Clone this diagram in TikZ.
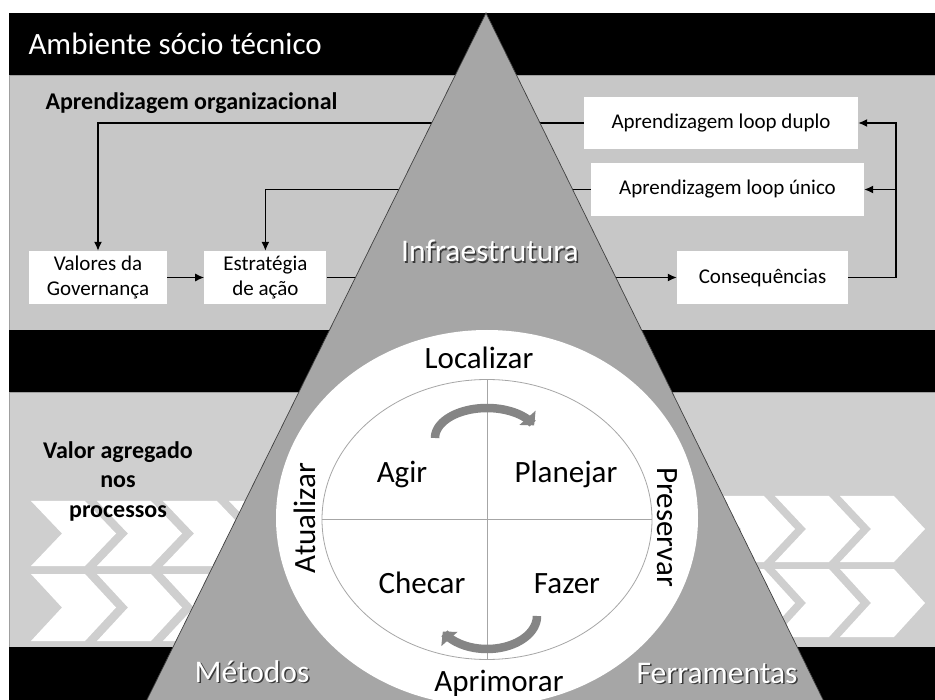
\documentclass[tikz,border=0pt]{standalone}
\usepackage{fontspec}
\setmainfont{Carlito}
\usetikzlibrary{arrows.meta}
\usetikzlibrary{positioning}
\usetikzlibrary{shapes.geometric}
\definecolor{bandgray}{gray}{0.78}
\definecolor{bandgraylow}{gray}{0.81}
\definecolor{trigray}{gray}{0.65}
\definecolor{arcgray}{gray}{0.52}
\tikzset{box/.style = {fill=white, inner sep=0, align=center,
                       font=\fontsize{21}{25}\selectfont}}
\tikzset{flow/.style = {line width=1.4pt, -{Latex[length=9pt, width=8pt]}}}
\tikzset{cyclearrow/.style = {draw=arcgray, line width=8.5pt,
                              -{Triangle[length=10pt, width=21pt]}}}
\tikzset{cycleword/.style = {anchor=base, font=\fontsize{31}{37}\selectfont}}
\tikzset{shade text/.style = {anchor=base, font=\fontsize{31.5}{38}\selectfont}}
\tikzset{chev/.style = {fill=white}}

\begin{document}
\begin{tikzpicture}[x=1pt, y=-1pt]
  \useasboundingbox (0,0) rectangle (935,700);
  \clip (0,0) rectangle (935,700);
  % bands
  \fill[black] (9,13) rectangle (940,75);
  \filldraw[fill=bandgray, draw=gray!75, line width=0.6pt] (9.5,75) rectangle (940,330);
  \fill[black] (9,330) rectangle (940,392);
  \filldraw[fill=bandgraylow, draw=gray!75, line width=0.6pt] (9.5,392) rectangle (940,647);
  \fill[black] (9,647) rectangle (940,710);
  % chevrons
  \foreach \x in {31,97,163,229} {
    \fill[chev] (\x,501) -- ++(54,0) -- ++(31,32.5) -- ++(-31,32.5) -- ++(-54,0) -- ++(31,-32.5) -- cycle;
    \fill[chev] (\x,574) -- ++(54,0) -- ++(31,33.5) -- ++(-31,33.5) -- ++(-54,0) -- ++(31,-33.5) -- cycle;
  }
  \foreach \x in {710,775,840} {
    \fill[chev] (\x,496) -- ++(54,0) -- ++(31,33) -- ++(-31,33) -- ++(-54,0) -- ++(31,-33) -- cycle;
    \fill[chev] (\x,569) -- ++(54,0) -- ++(31,34) -- ++(-31,34) -- ++(-54,0) -- ++(31,-34) -- cycle;
  }
  \node[anchor=base west, text=white, font=\fontsize{31}{37}\selectfont] (ambiente) at (25,55) {Ambiente sócio técnico};
  \node[anchor=base west, font=\bfseries\fontsize{24}{28}\selectfont] (aprendizagem) at (42,110) {Aprendizagem organizacional};
  \node[align=center, font=\bfseries\fontsize{24}{29.5}\selectfont] (valor) at (118,481) {Valor agregado\\nos\\processos};
  % learning loop
  \node[box, minimum width=138pt, minimum height=53pt] (valores) at (98,277.5) {Valores da\\Governança};
  \node[box, minimum width=122pt, minimum height=53pt, right=37pt of valores] (estrategia) {Estratégia\\de ação};
  \node[box, minimum width=274pt, minimum height=52pt] (duplo) at (721,123) {Aprendizagem loop duplo};
  \node[box, minimum width=273pt, minimum height=53pt] (unico) at (727.5,189.5) {Aprendizagem loop único};
  \node[box, minimum width=171pt, minimum height=53pt] (consequencias) at (762.5,277.5) {Consequências};
  \coordinate (retorno) at (896,277.5);
  \draw[flow] (duplo.west) -| (valores.north);
  \draw[flow] (unico.west) -| (estrategia.north);
  \draw[flow] (valores) -- (estrategia);
  \draw[flow] (estrategia) -- (consequencias);
  \draw[flow] (consequencias.east) -- (retorno) |- (duplo.east);
  \draw[flow] (retorno |- unico.east) -- (unico.east);
  % pyramid
  \filldraw[fill=trigray, draw=gray!50!black, line width=0.7pt] (486,13) -- (833,720) -- (137,720) -- cycle;
  \fill[white] (487,518) ellipse [x radius=211, y radius=188];
  \node[ellipse, draw=gray!70, line width=0.8pt, fill=white, minimum width=330pt, minimum height=280pt,
        inner sep=0] (pdca) at (487,519.5) {};
  \draw[gray!70, line width=0.8pt] (pdca.west) -- (pdca.east);
  \draw[gray!70, line width=0.8pt] (pdca.north) -- (pdca.south);
  \draw[cyclearrow] plot[domain=180:335, samples=40] ({487+52*cos(\x)}, {438+30*sin(\x)});
  \draw[cyclearrow] plot[domain=0:152, samples=40] ({487+50*cos(\x)}, {616+33*sin(\x)});
  % words
  \node[cycleword] (localizar) at (479,369) {Localizar};
  \node[cycleword] (agir) at (402,483) {Agir};
  \node[cycleword] (planejar) at (566,483) {Planejar};
  \node[cycleword] (checar) at (422,593) {Checar};
  \node[cycleword] (fazer) at (567,593) {Fazer};
  \node[cycleword] (aprimorar) at (499,691) {Aprimorar};
  \node[cycleword, rotate=90] (atualizar) at (315,518) {Atualizar};
  \node[cycleword, rotate=-90] (preservar) at (657,527) {Preservar};
  \foreach \name/\pos/\txt in {infra/{(490,262)}/Infraestrutura, metodos/{(252,682)}/Métodos,
                               ferramentas/{(717,683)}/Ferramentas} {
    \node[shade text, text=gray!45!black, xshift=1.5pt, yshift=-1.5pt] at \pos {\txt};
    \node[shade text, text=white] (\name) at \pos {\txt};
  }
\end{tikzpicture}
\end{document}
